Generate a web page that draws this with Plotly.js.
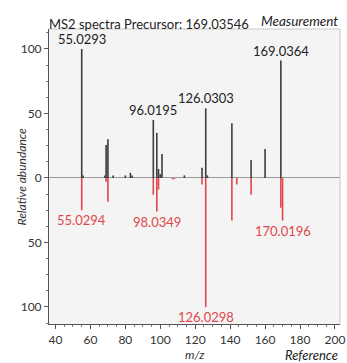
<!DOCTYPE html>
<html>
<head>
<meta charset="utf-8">
<script src="https://cdn.plot.ly/plotly-3.0.1.min.js"></script>
<style>html,body{margin:0;padding:0;background:#fff;}#chart{width:347px;height:363px;}</style>
</head>
<body>
<div id="chart"></div>
<script>
// Measurement spectrum (positive)
var measMz  = [55.0293, 55.8, 68.3, 68.99, 70.03, 73.0, 80.0, 82.9, 83.9, 96.0195, 98.0, 99.0, 100.0, 101.0, 113.8, 123.9, 126.0303, 127.0, 141.0, 152.0, 160.0, 169.0364];
var measInt = [100, 2, 2, 25.5, 30, 2, 2, 4, 2, 45, 35, 7, 3, 18.5, 2, 8, 54, 2, 42.5, 14, 22.5, 91];
// Reference spectrum (drawn downward)
var refMz  = [55.0294, 68.99, 70.03, 96.0, 98.0349, 99.0, 107.0, 108.0, 123.9, 126.0298, 141.0, 143.8, 152.0, 169.03, 170.0196];
var refInt = [25, 3, 18.5, 13, 26, 9, 1, 1, 5, 100, 33, 5, 13, 23, 33];
// Labelled peaks
var measLabels = [55.0293, 96.0195, 126.0303, 169.0364];
var refLabels  = [55.0294, 98.0349, 126.0298, 170.0196];
var yTickVals = [-100, -50, 0, 50, 100];
var yTickText = ['100', '50', '0', '50', '100'];
var xTickVals = [40, 60, 80, 100, 120, 140, 160, 180, 200];

var fontFam = 'Lato, "Open Sans", sans-serif';
var black = '#3c3c3c', red = '#e0464a';

function sticks(mz, inten, sign){
  var xs = [], ys = [];
  mz.forEach(function(m, i){ xs.push(m, m, null); ys.push(0, sign*inten[i], null); });
  return {x:xs, y:ys};
}
var ms = sticks(measMz, measInt, 1), rs = sticks(refMz, refInt, -1);

var traces = [
  {type:'scatter', mode:'lines', x:ms.x, y:ms.y, line:{color:black, width:1.6}, connectgaps:false, hoverinfo:'skip'},
  {type:'scatter', mode:'lines', x:rs.x, y:rs.y, line:{color:red, width:1.6}, connectgaps:false, hoverinfo:'skip'}
];

var annotations = [];
measLabels.forEach(function(m){
  var i = measMz.indexOf(m);
  annotations.push({x:m, y:measInt[i], xref:'x', yref:'y', text:m.toFixed(4), showarrow:false,
    yanchor:'bottom', yshift:0, font:{family:fontFam, size:13, color:'#222'}});
});
refLabels.forEach(function(m){
  var i = refMz.indexOf(m);
  annotations.push({x:m, y:-refInt[i], xref:'x', yref:'y', text:m.toFixed(4), showarrow:false,
    yanchor:'top', yshift:0, font:{family:fontFam, size:13, color:red}});
});
annotations.push({x:1, y:1, xref:'paper', yref:'paper', xanchor:'right', yanchor:'middle', yshift:8,
  text:'<i>Measurement</i>', showarrow:false, font:{family:fontFam, size:13.5, color:'#222'}});
annotations.push({x:1, y:0, xref:'paper', yref:'paper', xanchor:'right', yanchor:'middle', yshift:-31,
  text:'<i>Reference</i>', showarrow:false, font:{family:fontFam, size:13, color:'#222'}});
annotations.push({x:0.5, y:0, xref:'paper', yref:'paper', xanchor:'center', yanchor:'middle', yshift:-30,
  text:'<i>m/z</i>', showarrow:false, font:{family:fontFam, size:12, color:'#333'}});
annotations.push({x:0, y:0.5, xref:'paper', yref:'paper', xanchor:'center', yanchor:'middle', xshift:-28,
  textangle:-90, text:'<i>Relative abundance</i>', showarrow:false, font:{family:fontFam, size:12, color:'#333'}});

var layout = {
  width:347, height:363,
  margin:{l:49, r:7, t:29, b:39, pad:0},
  paper_bgcolor:'#ffffff', plot_bgcolor:'#f4f4f4',
  showlegend:false,
  title:{text:'MS2 spectra Precursor: 169.03546', x:0, xref:'paper', xanchor:'left', y:1, yref:'paper', yanchor:'bottom', pad:{b:0},
    font:{family:fontFam, size:13, color:'#222'}},
  xaxis:{range:[36.3, 202.9], tickvals:xTickVals, ticks:'outside', ticklen:4, tickcolor:'#555', ticklabelstandoff:1,
    ticklabeloverflow:'allow',
    minor:{dtick:5, ticks:'outside', ticklen:2, tickcolor:'#777'},
    showline:true, linecolor:'#555', linewidth:1, mirror:false, showgrid:false, zeroline:false,
    tickfont:{family:fontFam, size:12, color:'#333'}},
  yaxis:{range:[-113.2, 115.5], tickvals:yTickVals, ticktext:yTickText, ticks:'outside', ticklen:4, tickcolor:'#555',
    minor:{dtick:12.5, ticks:'outside', ticklen:2, tickcolor:'#777'},
    showline:true, linecolor:'#555', linewidth:1, showgrid:false,
    zeroline:true, zerolinecolor:'#9a9a9a', zerolinewidth:1,
    tickfont:{family:fontFam, size:12, color:'#333'}},
  shapes:[
    {type:'line', xref:'paper', yref:'paper', x0:0, x1:1, y0:1, y1:1, line:{color:'#c8c8c8', width:1}},
    {type:'line', xref:'paper', yref:'paper', x0:1, x1:1, y0:0, y1:1, line:{color:'#c8c8c8', width:1}}
  ],
  annotations:annotations
};

Plotly.newPlot('chart', traces, layout, {displayModeBar:false, staticPlot:true});
</script>
</body>
</html>
